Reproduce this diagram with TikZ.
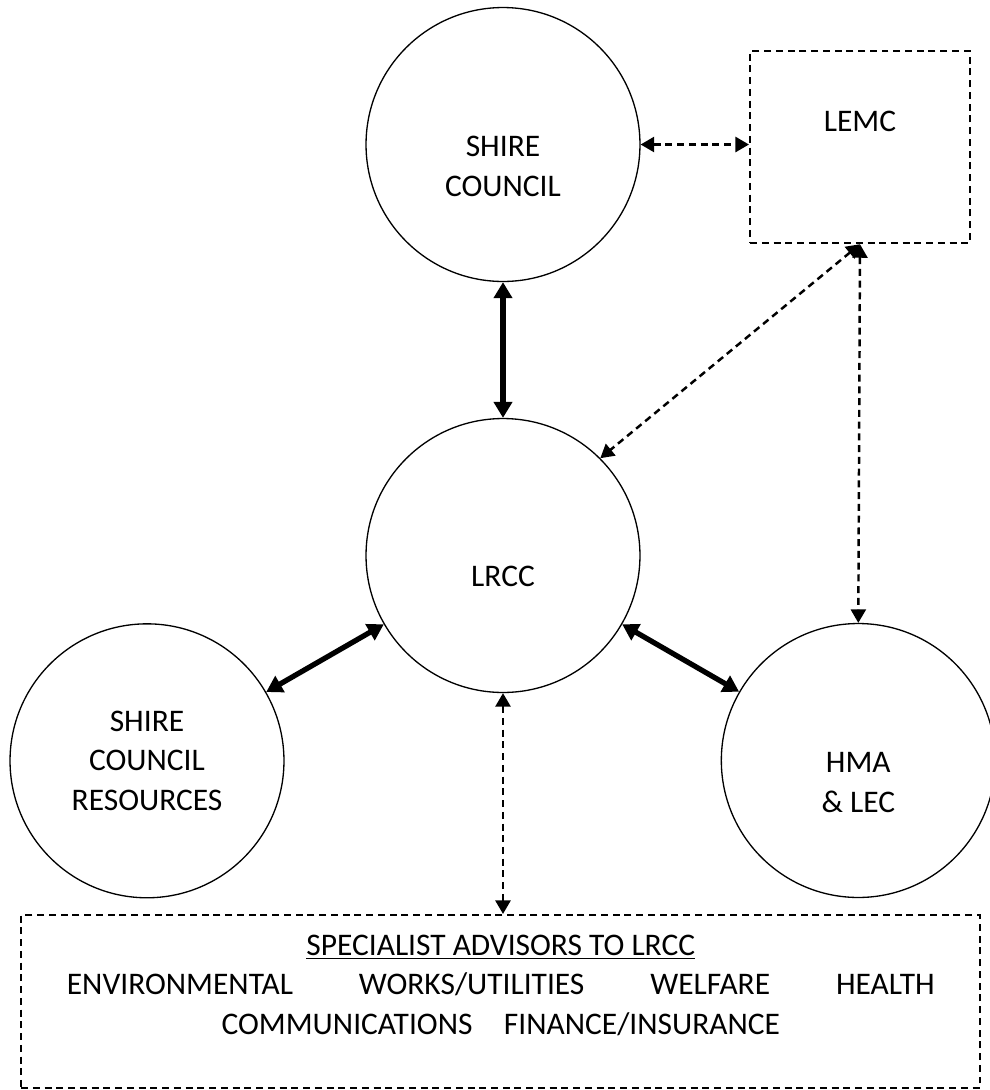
\documentclass[tikz,border=0pt]{standalone}
\usepackage{fontspec}
\setmainfont{Carlito}
\usetikzlibrary{arrows.meta}
\tikzset{
  ring/.style={circle,draw,line width=0.75pt,minimum size=5.48cm,inner sep=0pt},
  dashbox/.style={draw,dash pattern=on 0.14cm off 0.095cm,line width=1.2pt,inner sep=0pt},
  lbl/.style={align=center,inner sep=0pt,font=\fontsize{17.9}{22.4}\selectfont},
  strong/.style={line width=3pt,{Triangle[length=0.32cm,width=0.36cm]}-{Triangle[length=0.32cm,width=0.36cm]}},
  weak/.style={line width=1.4pt,dash pattern=on 0.14cm off 0.095cm,{Triangle[length=0.27cm,width=0.3cm]}-{Triangle[length=0.27cm,width=0.3cm]}}
}
\begin{document}
\begin{tikzpicture}[x=0.02cm,y=-0.02cm]
\useasboundingbox (0,0) rectangle (990,1090);
% circles
\node[ring] (council) at (503,144.5) {};
\node[ring] (lrcc) at (503,555.5) {};
\node[ring] (res) at (147,760.8) {};
\node[ring] (hma) at (858.3,760.5) {};
% dashed boxes
\node[dashbox,minimum width=4.4cm,minimum height=3.84cm] (lemc) at (860,147.2) {};
\node[dashbox,minimum width=19.18cm,minimum height=3.46cm] (advisors) at (500.5,1001.5) {};
% labels
\node[lbl] (councilt) at ([yshift=-0.44cm]council.center) {SHIRE\\COUNCIL};
\node[lbl] (lrcct) at ([yshift=-0.42cm]lrcc.center) {LRCC};
\node[lbl] (rest) at (res.center) {SHIRE\\COUNCIL\\RESOURCES};
\node[lbl] (hmat) at ([yshift=-0.44cm]hma.center) {HMA\\\& LEC};
\node[lbl] (lemct) at (860,121.7) {LEMC};
\node[lbl] (advt) at (500.8,985.4) {\underline{SPECIALIST ADVISORS TO LRCC}\\
  \makebox[17.36cm]{ENVIRONMENTAL\hfill WORKS/UTILITIES\hfill WELFARE\hfill HEALTH}\\
  COMMUNICATIONS\hspace{0.63cm}FINANCE/INSURANCE};
% connectors
\draw[strong] (council.south) -- (lrcc.north);
\draw[strong] (res.30) -- (lrcc.210);
\draw[strong] (lrcc.-30) -- (hma.150);
\draw[weak] (council.east) -- (council.east -| lemc.west);
\draw[weak] (lemc.south) -- (lrcc.45);
\draw[weak] (lemc.south) -- (hma.north);
\draw[weak] (lrcc.south) -- (lrcc.south |- advisors.north);
\end{tikzpicture}
\end{document}
